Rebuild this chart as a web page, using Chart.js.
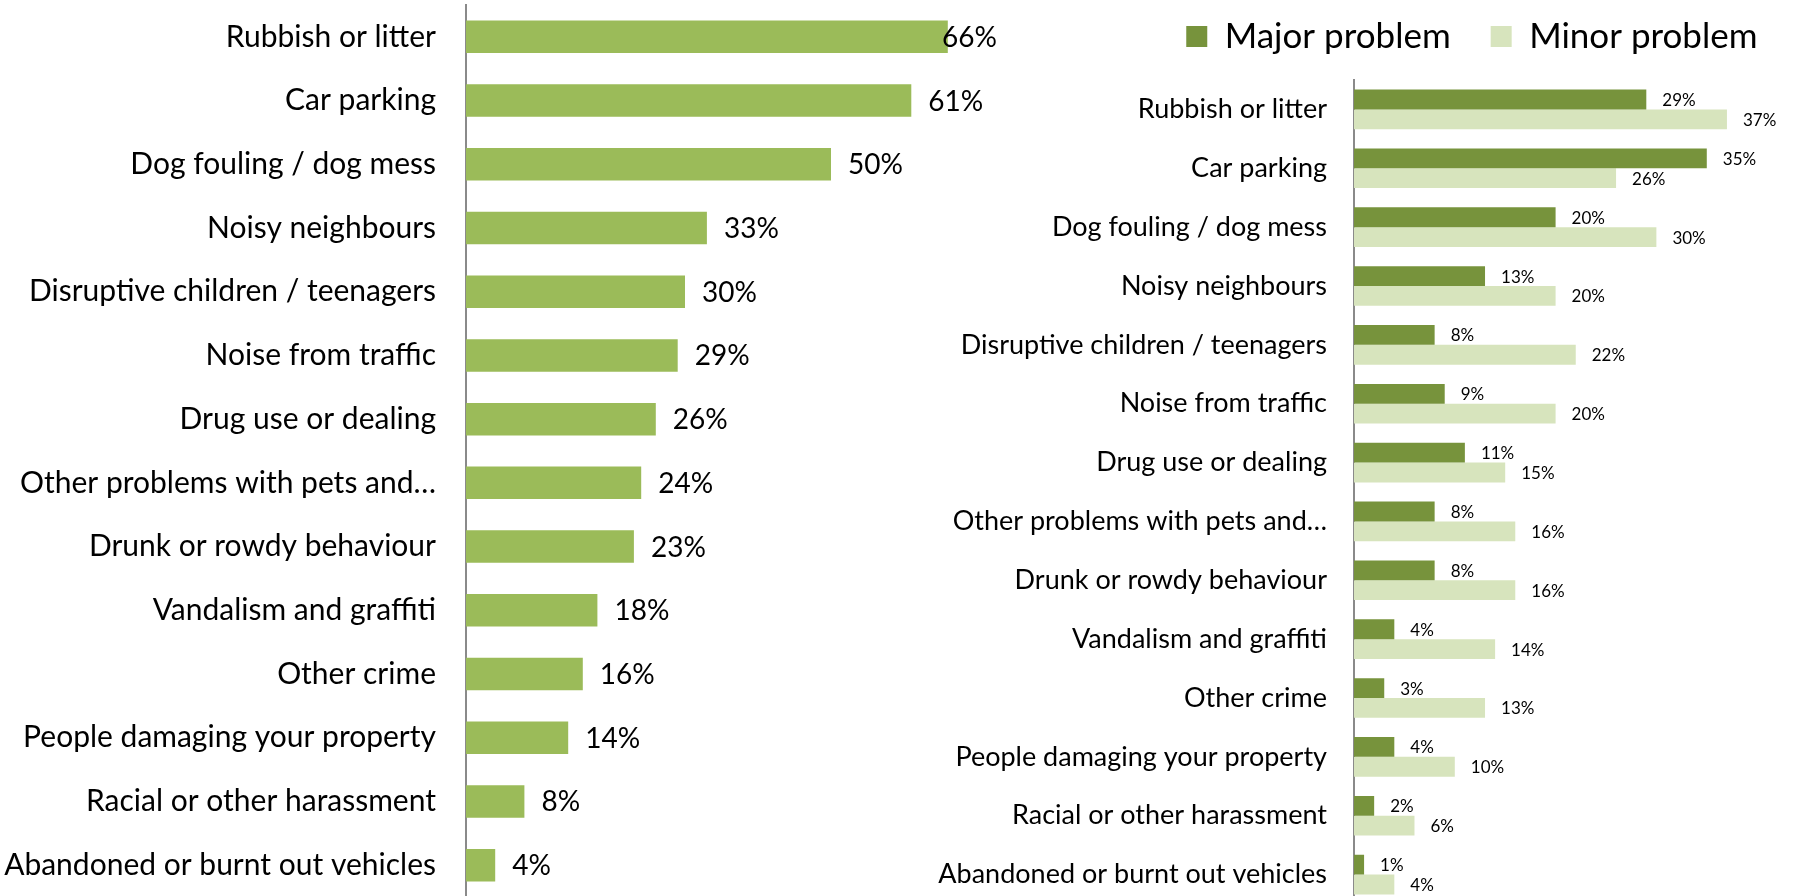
<!DOCTYPE html>
<html>
<head>
<meta charset="utf-8">
<title>Neighbourhood problems</title>
<script src="https://cdn.jsdelivr.net/npm/chart.js@4.4.1/dist/chart.umd.min.js"></script>
<style>
  html, body { margin: 0; padding: 0; background: #fff; overflow: hidden; }
  body { width: 1802px; height: 896px; position: relative; }
  .box { position: absolute; top: 0; }
  #leftBox { left: 0; width: 1000px; height: 897px; }
  #rightBox { left: 900px; width: 902px; height: 904px; }
</style>
</head>
<body>
<div class="box" id="leftBox"><canvas id="overallChart"></canvas></div>
<div class="box" id="rightBox"><canvas id="splitChart"></canvas></div>
<script>
  var categories = [
    "Rubbish or litter",
    "Car parking",
    "Dog fouling / dog mess",
    "Noisy neighbours",
    "Disruptive children / teenagers",
    "Noise from traffic",
    "Drug use or dealing",
    "Other problems with pets and\u2026",
    "Drunk or rowdy behaviour",
    "Vandalism and graffiti",
    "Other crime",
    "People damaging your property",
    "Racial or other harassment",
    "Abandoned or burnt out vehicles",
  ];
  var anyProblem = [66, 61, 50, 33, 30, 29, 26, 24, 23, 18, 16, 14, 8, 4];
  var majorProblem = [29, 35, 20, 13, 8, 9, 11, 8, 8, 4, 3, 4, 2, 1];
  var minorProblem = [37, 26, 30, 20, 22, 20, 15, 16, 16, 14, 13, 10, 6, 4];

  var FONT = "Lato, 'Open Sans', sans-serif";
  var axisGrey = "#8a8a8a";

  // percentage labels just past the end of each bar, kept inside the canvas
  var valueLabels = {
    id: "valueLabels",
    afterDatasetsDraw: function (chart, args, opts) {
      var ctx = chart.ctx;
      ctx.save();
      ctx.font = opts.size + "px " + FONT;
      ctx.fillStyle = "#000";
      ctx.textAlign = "left";
      ctx.textBaseline = "middle";
      chart.data.datasets.forEach(function (ds, di) {
        var meta = chart.getDatasetMeta(di);
        meta.data.forEach(function (bar, i) {
          var txt = ds.data[i] + "%";
          var w = ctx.measureText(txt).width;
          var x = Math.min(bar.x + opts.gap, chart.width - w - 3);
          ctx.fillText(txt, x, bar.y + opts.dy);
        });
      });
      ctx.restore();
    },
  };

  function yAxis(width, size, pad) {
    return {
      type: "category",
      afterFit: function (scale) {
        // fixed label column, and no extra room above/below the bars
        scale.width = width;
        scale.paddingTop = 0;
        scale.paddingBottom = 0;
      },
      grid: { display: false, drawTicks: false, tickLength: 0 },
      border: { display: true, color: axisGrey, width: 2 },
      ticks: {
        color: "#000",
        padding: pad,
        autoSkip: false,
        font: { family: FONT, size: size },
      },
    };
  }

  new Chart(document.getElementById("overallChart"), {
    type: "bar",
    data: {
      labels: categories,
      datasets: [
        {
          label: "Any problem",
          data: anyProblem,
          backgroundColor: "#9bbb59",
          categoryPercentage: 0.51,
          barPercentage: 1,
        },
      ],
    },
    options: {
      indexAxis: "y",
      responsive: true,
      maintainAspectRatio: false,
      animation: false,
      layout: { padding: { top: 5, right: 23, bottom: 0, left: 0 } },
      scales: {
        x: { display: false, min: 0, max: 70 },
        y: yAxis(466, 30, 30),
      },
      plugins: {
        legend: { display: false },
        tooltip: { enabled: false },
        valueLabels: { size: 28, gap: 17, dy: 1 },
      },
    },
    plugins: [valueLabels],
  });

  new Chart(document.getElementById("splitChart"), {
    type: "bar",
    data: {
      labels: categories,
      datasets: [
        {
          label: "Major problem",
          data: majorProblem,
          backgroundColor: "#77933c",
          categoryPercentage: 0.673,
          barPercentage: 1,
        },
        {
          label: "Minor problem",
          data: minorProblem,
          backgroundColor: "#d7e4bd",
          categoryPercentage: 0.673,
          barPercentage: 1,
        },
      ],
    },
    options: {
      indexAxis: "y",
      responsive: true,
      maintainAspectRatio: false,
      animation: false,
      // legend sits high above the bars, so pull the top edge up
      layout: { padding: { top: -21, right: 4.5, bottom: 0, left: 0 } },
      scales: {
        // hidden value axis on top: only used as a gap under the legend
        x: {
          position: "top",
          min: 0,
          max: 44,
          grid: { display: false, drawTicks: false },
          border: { display: false },
          ticks: { display: false },
          afterFit: function (scale) {
            scale.height = 16;
            scale.paddingLeft = 0;
            scale.paddingRight = 0;
          },
        },
        y: yAxis(454, 27, 27),
      },
      plugins: {
        legend: {
          position: "top",
          align: "end",
          labels: {
            color: "#000",
            boxWidth: 21,
            boxHeight: 21,
            padding: 40,
            font: { family: FONT, size: 35 },
          },
        },
        tooltip: { enabled: false },
        valueLabels: { size: 17, gap: 16, dy: 1 },
      },
    },
    plugins: [valueLabels],
  });
</script>
</body>
</html>
